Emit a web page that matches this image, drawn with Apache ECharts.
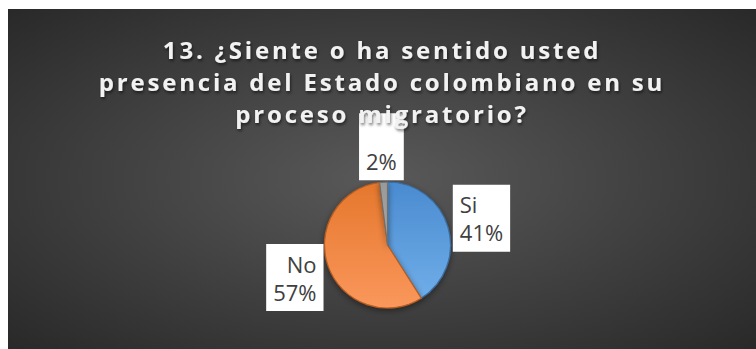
<!DOCTYPE html>
<html>
<head>
<meta charset="utf-8">
<script src="https://cdn.jsdelivr.net/npm/echarts@6/dist/echarts.min.js"></script>
<style>
  html, body { margin: 0; padding: 0; background: #ffffff; }
  #chart { position: absolute; left: 8px; top: 9px; width: 748px; height: 340px; }
  /* spaced-out bold title lettering */
  #chart svg text[style*="bold"] { letter-spacing: 2.8px; }
</style>
</head>
<body>
<div id="chart"></div>
<script>
// Survey answers for question 13
const titleText = '13. ¿Siente o ha sentido usted\npresencia del Estado colombiano en su\nproceso migratorio?';
const categories = ['Si', 'No', ''];
const values = [41, 57, 2];
const sliceTop = ['#4a8bd0', '#e5772c', '#9a9a9a'];
const sliceBottom = ['#72b0ea', '#fa975c', '#b0b0b0'];
const sliceEdge = ['#3a6fa6', '#b85d20', '#6f6f6f'];

const CX = 379.5, CY = 236, R = 63;
const total = values.reduce((a, b) => a + b, 0);

const chart = echarts.init(document.getElementById('chart'), null, { renderer: 'svg' });

const data = categories.map((name, i) => ({
  name: name,
  value: values[i],
  itemStyle: {
    color: {
      type: 'linear', x: 0, y: CY - R, x2: 0, y2: CY + R, global: true,
      colorStops: [
        { offset: 0, color: sliceTop[i] },
        { offset: 1, color: sliceBottom[i] }
      ]
    },
    borderColor: sliceEdge[i],
    borderWidth: 1.2
  }
}));

// place each callout just beyond the rim, along the slice's mid-angle
function placeLabel(p) {
  const i = p.dataIndex;
  let cum = 0;
  for (let k = 0; k < i; k++) cum += values[k];
  const mid = (-90 + 360 * (cum + values[i] / 2) / total) * Math.PI / 180;
  const c = Math.cos(mid), s = Math.sin(mid);
  if (Math.abs(c) > 0.5) {
    const d = R + 5;
    return {
      x: CX + d * c,
      y: CY + d * s + s * 28,
      align: c > 0 ? 'left' : 'right',
      verticalAlign: 'middle'
    };
  }
  const d = R + 2;
  return {
    x: CX + d * c - 2,
    y: CY + d * s,
    align: 'center',
    verticalAlign: s < 0 ? 'bottom' : 'top'
  };
}

chart.setOption({
  backgroundColor: {
    type: 'radial', x: 0.5, y: 0.5, r: 0.75,
    colorStops: [
      { offset: 0, color: '#595959' },
      { offset: 1, color: '#262626' }
    ]
  },
  title: {
    text: titleText,
    left: 'center',
    top: 24,
    padding: [0, 0, 0, 7],
    textStyle: {
      fontFamily: '"Open Sans", sans-serif',
      fontSize: 24,
      fontWeight: 'bold',
      lineHeight: 32,
      color: '#f2f2f2',
      textShadowColor: 'rgba(0,0,0,0.55)',
      textShadowBlur: 3,
      textShadowOffsetX: 1,
      textShadowOffsetY: 2
    }
  },
  series: [{
    type: 'pie',
    center: [CX, CY],
    radius: R,
    startAngle: 90,
    clockwise: true,
    animation: false,
    silent: true,
    data: data,
    itemStyle: {
      shadowColor: 'rgba(0,0,0,0.45)',
      shadowBlur: 6,
      shadowOffsetY: 2
    },
    label: {
      show: true,
      position: 'outside',
      formatter: '{b}\n{d}%',
      fontFamily: '"Liberation Sans Narrow", "Open Sans", sans-serif',
      fontSize: 22,
      lineHeight: 28,
      color: '#404040',
      align: 'center',
      backgroundColor: '#ffffff',
      padding: [6, 7, 5, 7]
    },
    labelLine: { show: false },
    labelLayout: placeLabel
  }]
});
</script>
</body>
</html>
